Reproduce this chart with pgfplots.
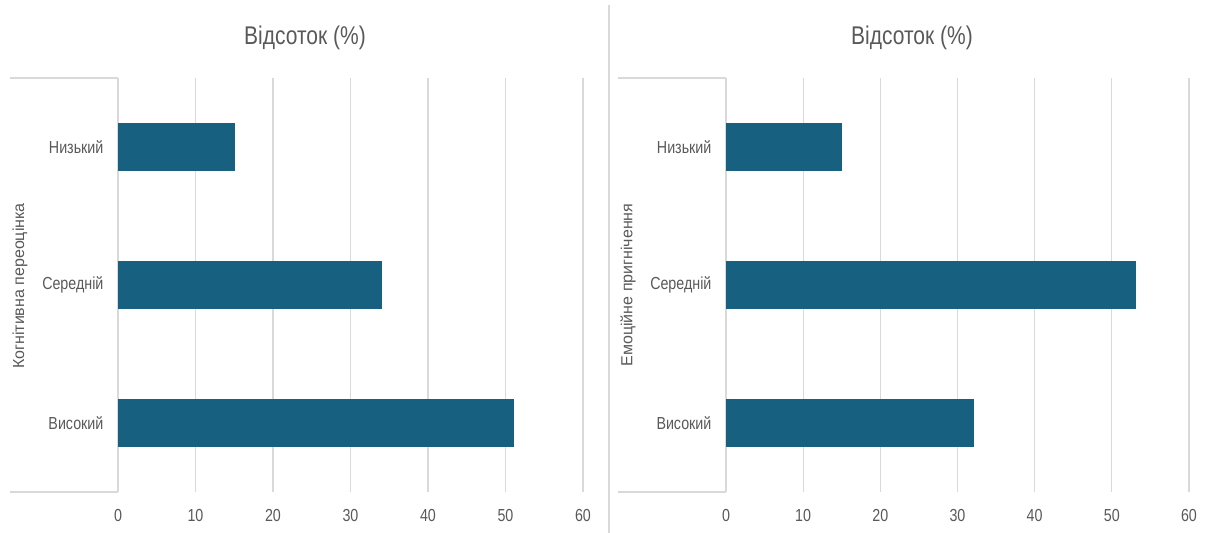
\documentclass[border=0pt]{standalone}
\usepackage{fontspec}
\setmainfont[FakeStretch=0.82]{Liberation Sans}
\newfontfamily\labfont{Liberation Sans}
\usepackage{pgfplots}
\pgfplotsset{compat=1.18}

\definecolor{barblue}{RGB}{24,96,128}
\definecolor{gridgray}{RGB}{217,217,217}
\definecolor{txtgray}{RGB}{89,89,89}

\pgfplotsset{
  panel/.style={
    scale only axis, width=232.5pt, height=207pt,
    anchor=south west,
    xbar, bar width=23.5pt,
    xmin=0, xmax=60, ymin=-0.5, ymax=2.5,
    xtick={0,10,...,60},
    ytick={0,1,2},
    yticklabels={Високий,Середній,Низький},
    xmajorgrids, major grid style={gridgray, line width=0.6pt},
    axis line style={draw=none},
    tick style={draw=none},
    /pgf/number format/assume math mode=true,
    ticklabel style={font=\fontsize{8.7}{10}\selectfont, text=txtgray},
    xticklabel style={yshift=-5pt},
    yticklabel style={xshift=0.5pt},
    clip=false,
  },
}

\begin{document}
\begin{tikzpicture}
\useasboundingbox (0,0) rectangle (611pt,-266.5pt);

% separator
\draw[gridgray, line width=0.6pt] (304.5pt,-2.5pt) -- (304.5pt,-266.5pt);

% left panel
\begin{axis}[panel, at={(59pt,-246pt)}]
  \addplot[fill=barblue, draw=barblue] coordinates {(51,0) (34,1) (15,2)};
  \draw[gridgray, line width=0.6pt] (rel axis cs:0,1) -- ++(-54pt,0pt);
  \draw[gridgray, line width=0.6pt] (rel axis cs:0,0) -- ++(-54pt,0pt);
\end{axis}
\node[text=txtgray, font=\fontsize{12.8}{15}\selectfont] at (152.5pt,-19pt) {Відсоток (\%)};
\node[rotate=90, text=txtgray, font=\labfont\fontsize{8}{10}\selectfont] at (10pt,-143pt) {Когнітивна переоцінка};

% right panel
\begin{axis}[panel, at={(363pt,-246pt)}, width=231.5pt]
  \addplot[fill=barblue, draw=barblue] coordinates {(32,0) (53,1) (15,2)};
  \draw[gridgray, line width=0.6pt] (rel axis cs:0,1) -- ++(-54pt,0pt);
  \draw[gridgray, line width=0.6pt] (rel axis cs:0,0) -- ++(-54pt,0pt);
\end{axis}
\node[text=txtgray, font=\fontsize{12.8}{15}\selectfont] at (456pt,-19pt) {Відсоток (\%)};
\node[rotate=90, text=txtgray, font=\labfont\fontsize{8}{10}\selectfont] at (314pt,-142.5pt) {Емоційне пригнічення};
\end{tikzpicture}
\end{document}
